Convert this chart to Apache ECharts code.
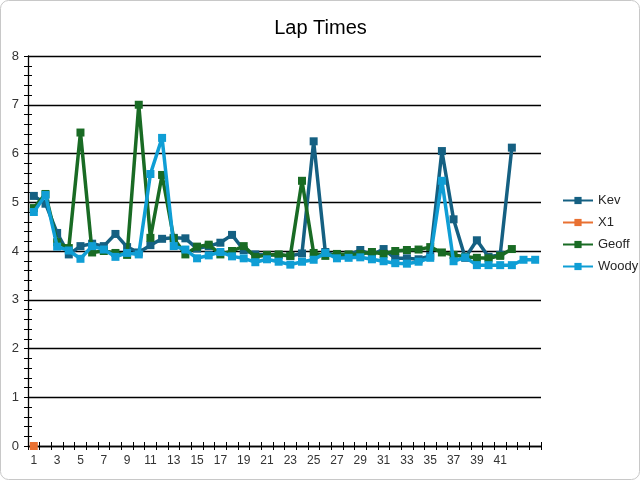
<!DOCTYPE html>
<html><head><meta charset="utf-8">
<script src="https://cdn.jsdelivr.net/npm/echarts@6/dist/echarts.min.js"></script>
<style>html,body{margin:0;padding:0;background:#fff}#c{width:641px;height:481px}</style>
</head><body><div id="c"></div>
<script>
const categories = ["1","2","3","4","5","6","7","8","9","10","11","12","13","14","15","16","17","18","19","20","21","22","23","24","25","26","27","28","29","30","31","32","33","34","35","36","37","38","39","40","41","42","",""];
const kev = [5.13,4.97,4.37,3.93,4.10,4.15,4.10,4.35,4.08,3.97,4.12,4.25,4.27,4.26,4.05,4.10,4.17,4.33,4.02,3.93,3.92,3.92,3.90,3.95,6.25,3.98,3.90,3.92,4.02,3.92,4.04,3.85,3.85,3.83,3.90,6.05,4.65,3.86,4.22,3.88,3.92,6.12];
const x1 = [0];
const geoff = [4.88,5.17,4.18,4.06,6.43,3.97,4.00,3.96,3.92,7.00,4.27,5.56,4.26,3.93,4.09,4.13,3.93,4.00,4.10,3.88,3.92,3.93,3.90,5.44,3.96,3.90,3.94,3.93,3.94,3.98,3.94,4.00,4.02,4.03,4.08,3.97,3.92,3.88,3.86,3.85,3.90,4.04];
const woody = [4.80,5.15,4.09,4.01,3.84,4.10,4.03,3.88,3.96,3.93,5.58,6.32,4.10,4.03,3.85,3.91,3.98,3.89,3.85,3.77,3.83,3.78,3.72,3.78,3.82,3.96,3.85,3.86,3.87,3.83,3.79,3.75,3.74,3.78,3.86,5.44,3.79,3.87,3.71,3.71,3.71,3.71,3.82,3.82];
const seriesNames = ["Kev","X1","Geoff","Woody"];
const seriesData = [kev, x1, geoff, woody];
const colors = ["#156082","#E97132","#196B24","#0F9ED5"];
const yMin = 0, yMax = 8, yStep = 1;

const font = "Liberation Sans, Arial, sans-serif";
const gridRect = {left: 28, right: 100, top: 56, bottom: 35};
const chart = echarts.init(document.getElementById('c'), null, {renderer: 'canvas'});
chart.setOption({
  animation: false,
  backgroundColor: '#fff',
  color: colors,
  title: {text: 'Lap Times', left: 'center', top: 13, textStyle: {fontFamily: font, fontSize: 20, fontWeight: 'normal', color: '#000'}},
  legend: {orient: 'vertical', left: 557, top: 189, itemWidth: 30, itemHeight: 9, itemGap: 9,
    textStyle: {fontFamily: font, fontSize: 13, color: '#262626'}, data: seriesNames},
  graphic: [{type: 'rect', shape: {x: 0.5, y: 0.5, width: 639, height: 479, r: 8}, style: {fill: 'none', stroke: '#c8c8c8', lineWidth: 1}, silent: true, z: -1}],
  grid: [Object.assign({}, gridRect), Object.assign({}, gridRect)],
  xAxis: [
    {type: 'category', data: categories, gridIndex: 0, boundaryGap: true,
     axisLine: {lineStyle: {color: '#000', width: 1.3}},
     axisTick: {show: true, interval: 0, length: 4, lineStyle: {color: '#000'}},
     axisLabel: {interval: 1, margin: 9, fontFamily: font, fontSize: 12, color: '#333'},
     splitLine: {show: false}},
    {type: 'category', data: categories, gridIndex: 1, boundaryGap: true,
     axisLine: {show: false},
     axisTick: {show: true, inside: true, interval: 0, length: 4, lineStyle: {color: '#000'}},
     axisLabel: {show: false}, splitLine: {show: false}}
  ],
  yAxis: [
    {type: 'value', min: yMin, max: yMax, interval: yStep, gridIndex: 0,
     axisLine: {show: true, lineStyle: {color: '#000', width: 1.3}},
     axisTick: {show: true, length: 4, lineStyle: {color: '#000'}},
     minorTick: {show: true, splitNumber: 5, length: 4, lineStyle: {color: '#000'}},
     axisLabel: {margin: 9, fontFamily: font, fontSize: 13, color: '#333'},
     splitLine: {show: true, lineStyle: {color: '#000', width: 1.3}}},
    {type: 'value', min: yMin, max: yMax, interval: yStep, gridIndex: 1,
     axisLine: {show: false},
     axisTick: {show: true, inside: true, length: 4, lineStyle: {color: '#000'}},
     minorTick: {show: true, splitNumber: 5, length: 4, lineStyle: {color: '#000'}},
     axisLabel: {show: false}, splitLine: {show: false}}
  ],
  series: seriesNames.map((n, i) => ({
    name: n, type: 'line', xAxisIndex: 0, yAxisIndex: 0, data: seriesData[i],
    symbol: 'rect', symbolSize: 8, showSymbol: true, showAllSymbol: true,
    lineStyle: {width: 3.5, color: colors[i]},
    itemStyle: {color: colors[i], borderWidth: 0},
    z: 3 + i
  }))
});
</script></body></html>
